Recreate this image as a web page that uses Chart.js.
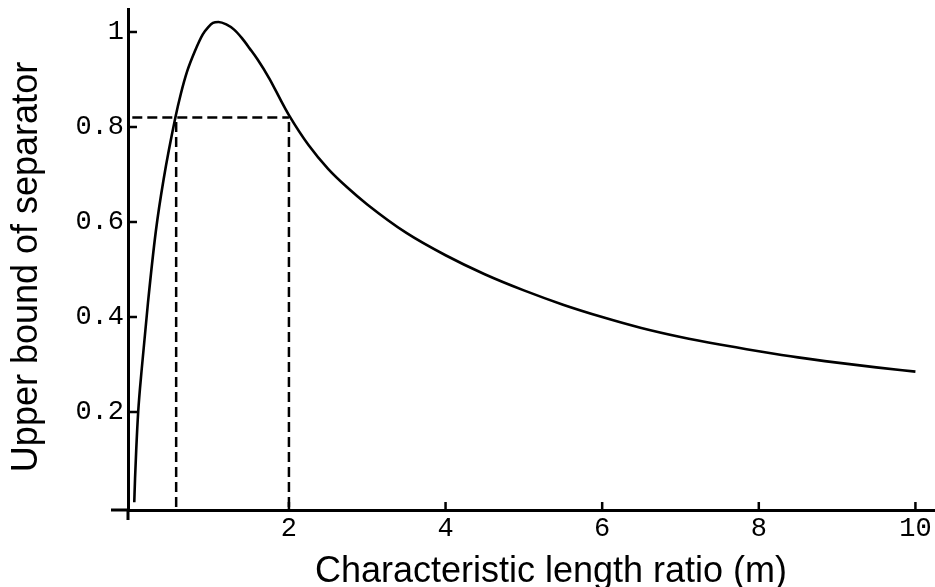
<!DOCTYPE html>
<html>
<head>
<meta charset="utf-8">
<script src="https://cdn.jsdelivr.net/npm/chart.js@4.4.1/dist/chart.umd.min.js"></script>
<style>
  body { margin: 0; background: #fff; }
  canvas { display: block; }
</style>
</head>
<body>
<canvas id="chart" width="935" height="587"></canvas>
<script>
// values
const curveX = [0.025, 0.035, 0.05, 0.075, 0.12, 0.2, 0.3, 0.4, 0.55, 0.62, 0.7, 0.8, 0.9, 0.97, 1.03, 1.1, 1.2, 1.3, 1.4, 1.5, 1.6, 1.75, 1.9, 2.0, 2.25, 2.5, 2.75, 3.0, 3.5, 4.0, 4.5, 5.0, 5.5, 6.0, 6.5, 7.0, 7.5, 8.0, 8.5, 9.0, 9.5, 10.0];
const curveY = [0.01, 0.06, 0.12, 0.20, 0.29, 0.43, 0.58, 0.69, 0.82, 0.87, 0.917, 0.96, 0.995, 1.01, 1.019, 1.021, 1.016, 1.005, 0.987, 0.965, 0.942, 0.902, 0.855, 0.825, 0.762, 0.712, 0.672, 0.637, 0.577, 0.53, 0.49, 0.456, 0.426, 0.4, 0.377, 0.358, 0.342, 0.328, 0.315, 0.304, 0.294, 0.285];
const dashLevel = 0.82;
const dashX = [0.56, 2.0];
const xTicks = [2, 4, 6, 8, 10];
const yTicks = [0.2, 0.4, 0.6, 0.8, 1];
const yTickLabels = ['0.2', '0.4', '0.6', '0.8', '1'];
const xTitle = 'Characteristic length ratio (m)';
const yTitle = 'Upper bound of separator';

const curve = curveX.map((x, i) => ({ x: x, y: curveY[i] }));
const dashH = [{ x: 0, y: dashLevel }, { x: dashX[1], y: dashLevel }];
const dashV1 = [{ x: dashX[0], y: 0 }, { x: dashX[0], y: dashLevel }];
const dashV2 = [{ x: dashX[1], y: 0 }, { x: dashX[1], y: dashLevel }];

const dashStyle = {
    borderColor: '#000',
    borderWidth: 2.5,
    borderDash: [10, 5],
    pointRadius: 0,
    showLine: true,
    order: 2
};

// inward tick marks, axis stubs and the two axis titles
const axisExtras = {
    id: 'axisExtras',
    afterDraw(chart) {
        const ctx = chart.ctx;
        const xs = chart.scales.x, ys = chart.scales.y;
        const x0 = xs.left, y0 = ys.bottom;
        ctx.save();
        ctx.strokeStyle = '#000';
        ctx.lineWidth = 3;
        ctx.beginPath();
        ctx.moveTo(x0 - 17, y0);
        ctx.lineTo(x0, y0);
        ctx.moveTo(x0, y0);
        ctx.lineTo(x0, y0 + 10);
        ctx.stroke();
        ctx.lineWidth = 2.5;
        ctx.beginPath();
        xTicks.forEach(v => {
            const p = xs.getPixelForValue(v);
            ctx.moveTo(p, y0);
            ctx.lineTo(p, y0 - 8);
        });
        yTicks.forEach(v => {
            const p = ys.getPixelForValue(v);
            ctx.moveTo(x0, p);
            ctx.lineTo(x0 + 9, p);
        });
        ctx.stroke();

        ctx.fillStyle = '#000';
        ctx.font = '36px "Liberation Sans", Arial, sans-serif';
        ctx.textAlign = 'center';
        ctx.textBaseline = 'alphabetic';
        ctx.fillText(xTitle, 551, 582);
        ctx.translate(37, 267);
        ctx.rotate(-Math.PI / 2);
        ctx.fillText(yTitle, 0, 0);
        ctx.restore();
    }
};

function noPad(s) {
    s.paddingTop = 0;
    s.paddingBottom = 0;
    s.paddingLeft = 0;
    s.paddingRight = 0;
}

new Chart(document.getElementById('chart').getContext('2d'), {
    type: 'scatter',
    data: {
        datasets: [
            {
                data: curve,
                borderColor: '#000',
                borderWidth: 2.6,
                pointRadius: 0,
                showLine: true,
                cubicInterpolationMode: 'monotone',
                order: 1
            },
            Object.assign({ data: dashH }, dashStyle),
            Object.assign({ data: dashV1 }, dashStyle),
            Object.assign({ data: dashV2 }, dashStyle)
        ]
    },
    options: {
        responsive: false,
        animation: false,
        layout: { padding: { top: 9, right: 0, left: 0, bottom: 0 } },
        plugins: { legend: { display: false }, tooltip: { enabled: false } },
        scales: {
            x: {
                type: 'linear',
                min: -0.055,
                max: 10.25,
                afterBuildTicks: s => { s.ticks = xTicks.map(v => ({ value: v })); },
                afterFit: s => { s.height = 77; noPad(s); },
                grid: { display: false, drawTicks: false },
                border: { display: true, color: '#000', width: 3 },
                ticks: {
                    color: '#000',
                    padding: 3,
                    maxRotation: 0,
                    font: { family: '"Liberation Mono", "Courier New", monospace', size: 27 }
                }
            },
            y: {
                type: 'linear',
                min: -0.0063,
                max: 1.0484,
                afterBuildTicks: s => { s.ticks = yTicks.map(v => ({ value: v })); },
                afterFit: s => { s.width = 128; noPad(s); },
                grid: { display: false, drawTicks: false },
                border: { display: true, color: '#000', width: 3 },
                ticks: {
                    color: '#000',
                    padding: 4,
                    font: { family: '"Liberation Mono", "Courier New", monospace', size: 27 },
                    callback: (v, i) => yTickLabels[yTicks.indexOf(v)]
                }
            }
        }
    },
    plugins: [axisExtras]
});
</script>
</body>
</html>
